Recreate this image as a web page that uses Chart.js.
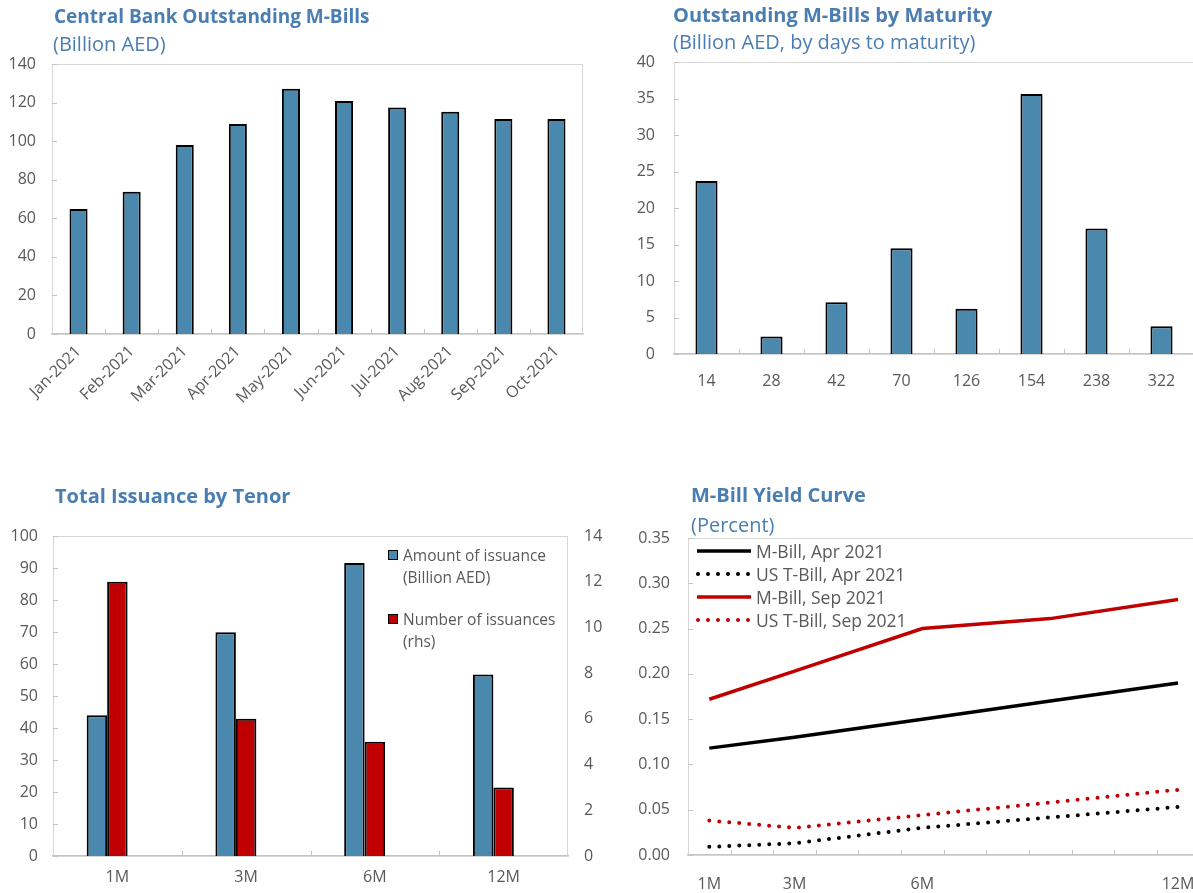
<!DOCTYPE html>
<html><head><meta charset="utf-8">
<script src="https://cdn.jsdelivr.net/npm/chart.js@4/dist/chart.umd.min.js"></script>
<style>
html,body{margin:0;padding:0;background:#fff;}
body{width:1193px;height:893px;overflow:hidden;position:relative;font-family:'Open Sans',sans-serif;}
canvas{position:absolute;}
.t{position:absolute;color:#4A7EB2;font-weight:700;font-size:20px;line-height:20px;white-space:nowrap;z-index:2;}
.s{position:absolute;color:#4A7EB2;font-size:20px;line-height:20px;white-space:nowrap;z-index:2;}
.l{position:absolute;color:#595959;font-size:15.5px;line-height:16px;white-space:nowrap;z-index:2;}
.l4{position:absolute;color:#595959;font-size:17.5px;line-height:18px;white-space:nowrap;z-index:2;}
.sq{position:absolute;width:8px;height:8px;border:1.5px solid #000;z-index:2;}
svg{position:absolute;z-index:2;}
</style></head><body>

<div class="t" style="left:54px;top:6px;font-size:19px;">Central Bank Outstanding M-Bills</div>
<div class="s" style="left:53px;top:34px;">(Billion AED)</div>
<canvas id="c1" width="600" height="420" style="left:0;top:0;"></canvas>

<div class="t" style="left:673px;top:5px;">Outstanding M-Bills by Maturity</div>
<div class="s" style="left:673px;top:32px;">(Billion AED, by days to maturity)</div>
<canvas id="c2" width="600" height="420" style="left:600px;top:0;"></canvas>

<div class="t" style="left:55px;top:486px;">Total Issuance by Tenor</div>
<canvas id="c3" width="615" height="423" style="left:0;top:470px;"></canvas>
<div class="sq" style="left:388px;top:550px;background:#4A89AD;"></div>
<div class="l" style="left:403px;top:547px;">Amount of issuance</div>
<div class="l" style="left:403px;top:569px;">(Billion AED)</div>
<div class="sq" style="left:388px;top:614px;background:#C00000;"></div>
<div class="l" style="left:403px;top:611px;">Number of issuances</div>
<div class="l" style="left:403px;top:633px;">(rhs)</div>

<canvas id="c4" width="600" height="423" style="left:615px;top:470px;"></canvas>
<div class="t" style="left:691px;top:485px;">M-Bill Yield Curve</div>
<div class="s" style="left:691px;top:515px;">(Percent)</div>
<svg width="60" height="100" style="left:694px;top:540px;">
  <line x1="3" y1="11" x2="57" y2="11" stroke="#000" stroke-width="3.5"/>
  <line x1="4" y1="34" x2="57" y2="34" stroke="#000" stroke-width="4" stroke-linecap="round" stroke-dasharray="0 10"/>
  <line x1="3" y1="57" x2="57" y2="57" stroke="#C00000" stroke-width="3.5"/>
  <line x1="4" y1="80" x2="57" y2="80" stroke="#C00000" stroke-width="4" stroke-linecap="round" stroke-dasharray="0 10"/>
</svg>
<div class="l4" style="left:756px;top:542px;">M-Bill, Apr 2021</div>
<div class="l4" style="left:756px;top:565px;">US T-Bill, Apr 2021</div>
<div class="l4" style="left:756px;top:588px;">M-Bill, Sep 2021</div>
<div class="l4" style="left:756px;top:611px;">US T-Bill, Sep 2021</div>

<script>
// ---- data ----
const months = ['Jan-2021','Feb-2021','Mar-2021','Apr-2021','May-2021','Jun-2021','Jul-2021','Aug-2021','Sep-2021','Oct-2021'];
const outstanding = [64.8, 73.8, 98.0, 108.9, 127.2, 120.8, 117.4, 115.3, 111.5, 111.5];

const maturityDays = ['14','28','42','70','126','154','238','322'];
const maturityAmounts = [23.7, 2.4, 7.1, 14.5, 6.2, 35.6, 17.2, 3.8];

const tenors = ['1M','3M','6M','12M'];
const issuanceAmount = [44.0, 69.9, 91.6, 56.7];
const issuanceCount = [12, 6, 5, 3];

const curveMonths = ['1M','2M','3M','4M','5M','6M','7M','8M','9M','10M','11M','12M'];
const curveTickLabels = ['1M','3M','6M','12M'];
const mBillApr = [0.118, null, 0.130, null, null, 0.150, null, null, 0.170, null, null, 0.190];
const usTBillApr = [0.009, null, 0.013, null, null, 0.030, null, null, null, null, null, 0.053];
const mBillSep = [0.172, null, 0.203, null, null, 0.250, null, null, 0.261, null, null, 0.282];
const usTBillSep = [0.038, null, 0.030, null, null, 0.044, null, null, null, null, null, 0.072];

// ---- styles ----
const BLUE = '#4A89AD', RED = '#C00000', GREY = '#595959', AXIS = '#c4c4c4';
const tickFont = {family: "'Open Sans', sans-serif", size: 16};

const framePlugin = {
  id: 'frame',
  afterDraw(chart) {
    const {ctx, chartArea: a} = chart;
    ctx.save();
    ctx.strokeStyle = '#d6d6d6';
    ctx.lineWidth = 1;
    ctx.strokeRect(a.left + 0.5, a.top + 0.5, a.right - a.left - 1, a.bottom - a.top);
    ctx.strokeStyle = AXIS;
    ctx.lineWidth = 1;
    const xs = chart.scales.x;
    const n = chart.data.labels.length;
    for (let i = 1; i < n; i++) {
      const px = Math.round((xs.getPixelForValue(i - 1) + xs.getPixelForValue(i)) / 2) + 0.5;
      ctx.beginPath(); ctx.moveTo(px, a.bottom); ctx.lineTo(px, a.bottom - 5); ctx.stroke();
    }
    const ys = chart.scales.y;
    ys.ticks.forEach((t, i) => {
      const py = Math.round(ys.getPixelForTick(i)) + 0.5;
      ctx.beginPath(); ctx.moveTo(a.left, py); ctx.lineTo(a.left + 5, py); ctx.stroke();
    });
    ctx.restore();
  }
};
Chart.register(framePlugin);

Chart.defaults.animation = false;
Chart.defaults.responsive = false;
Chart.defaults.plugins.legend.display = false;
Chart.defaults.plugins.tooltip.enabled = false;
Chart.defaults.color = GREY;

function xAxis(height, padding, extra) {
  return Object.assign({
    type: 'category',
    grid: {display: false, drawTicks: false},
    border: {display: true, color: AXIS, width: 1.5},
    ticks: {font: tickFont, color: GREY, padding: padding, autoSkip: false, maxRotation: 0, minRotation: 0},
    afterFit: s => { s.height = height; }
  }, extra || {});
}
function yAxis(width, padding, min, max, step, extra) {
  return Object.assign({
    min: min, max: max,
    grid: {display: false, drawTicks: false},
    border: {display: true, color: AXIS, width: 1},
    ticks: {font: tickFont, color: GREY, padding: padding, stepSize: step},
    afterFit: s => { s.width = width; }
  }, extra || {});
}

// Chart 1
new Chart(document.getElementById('c1'), {
  type: 'bar',
  data: {labels: months, datasets: [{data: outstanding, backgroundColor: BLUE, borderColor: '#000', borderWidth: 2,
    categoryPercentage: 1, barPercentage: 0.34}]},
  options: {
    layout: {padding: {top: 64, right: 17, left: 0, bottom: 0}},
    scales: {
      x: xAxis(86, 8, {ticks: {font: tickFont, color: GREY, padding: 8, autoSkip: false, maxRotation: 45, minRotation: 45}}),
      y: yAxis(52, 16, 0, 140, 20)
    }
  }
});

// Chart 2
new Chart(document.getElementById('c2'), {
  type: 'bar',
  data: {labels: maturityDays, datasets: [{data: maturityAmounts, backgroundColor: BLUE, borderColor: '#000', borderWidth: 2,
    categoryPercentage: 1, barPercentage: 0.34}]},
  options: {
    layout: {padding: {top: 62, right: 6, left: 0, bottom: 0}},
    scales: {
      x: xAxis(66, 18),
      y: yAxis(74, 19, 0, 40, 5)
    }
  }
});

// Chart 3
new Chart(document.getElementById('c3'), {
  type: 'bar',
  data: {labels: tenors, datasets: [
    {data: issuanceAmount, yAxisID: 'y', backgroundColor: BLUE, borderColor: '#000', borderWidth: 2,
      categoryPercentage: 0.477, barPercentage: 1},
    {data: issuanceCount, yAxisID: 'y1', backgroundColor: RED, borderColor: '#000', borderWidth: 2,
      categoryPercentage: 0.477, barPercentage: 1},
    {data: tenors.map(() => null), yAxisID: 'y', categoryPercentage: 0.477, barPercentage: 1}
  ]},
  options: {
    layout: {padding: {top: 66, right: 0, left: 0, bottom: 0}},
    scales: {
      x: xAxis(37, 12),
      y: yAxis(53, 15, 0, 100, 10),
      y1: yAxis(47, 16, 0, 14, 2, {position: 'right', border: {display: false}})
    }
  }
});

// Chart 4
new Chart(document.getElementById('c4'), {
  type: 'line',
  data: {labels: curveMonths, datasets: [
    {data: mBillApr, borderColor: '#000', borderWidth: 3.5, pointRadius: 0, spanGaps: true, tension: 0},
    {data: usTBillApr, borderColor: '#000', borderWidth: 4, borderDash: [0, 10], borderCapStyle: 'round', pointRadius: 0, spanGaps: true, tension: 0},
    {data: mBillSep, borderColor: RED, borderWidth: 3.5, pointRadius: 0, spanGaps: true, tension: 0},
    {data: usTBillSep, borderColor: RED, borderWidth: 4, borderDash: [0, 10], borderCapStyle: 'round', pointRadius: 0, spanGaps: true, tension: 0}
  ]},
  options: {
    layout: {padding: {top: 68, right: 15, left: 0, bottom: 0}},
    scales: {
      x: xAxis(38, 20, {offset: true, ticks: {font: tickFont, color: GREY, padding: 20, autoSkip: false, maxRotation: 0, minRotation: 0,
        callback: function(v, i) { const lab = curveMonths[i]; return curveTickLabels.includes(lab) ? lab : ''; }}}),
      y: yAxis(73, 18, 0, 0.35, 0.05, {ticks: {font: tickFont, color: GREY, padding: 18, stepSize: 0.05,
        callback: v => Number(v).toFixed(2)}})
    }
  }
});
</script>
</body></html>
